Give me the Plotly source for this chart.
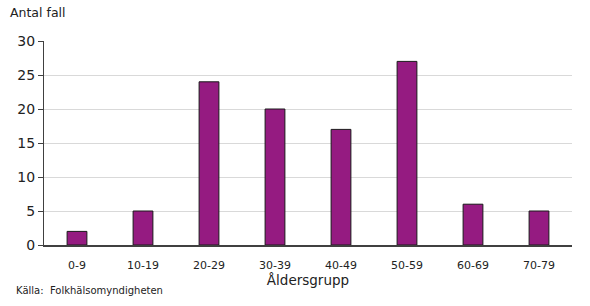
import plotly.graph_objects as go

categories = ["0-9", "10-19", "20-29", "30-39", "40-49", "50-59", "60-69", "70-79"]
values = [2, 5, 24, 20, 17, 27, 6, 5]
y_ticks = [0, 5, 10, 15, 20, 25, 30]

fig = go.Figure(go.Bar(
    x=categories, y=values,
    marker=dict(color="#951B81", line=dict(color="#1a1a1a", width=1)),
    width=0.3,
))

fig.update_layout(
    width=590, height=306,
    margin=dict(l=44, r=18, t=41, b=61),
    plot_bgcolor="white", paper_bgcolor="white",
    font=dict(family="DejaVu Sans", color="#222222"),
    showlegend=False,
    xaxis=dict(
        showline=True, linecolor="#404040", linewidth=1.5,
        ticks="", tickfont=dict(size=11), showgrid=False,
        ticklabelstandoff=9,
        title=dict(text="Åldersgrupp", font=dict(size=13.5), standoff=3),
    ),
    yaxis=dict(
        range=[0, 30], tickvals=y_ticks,
        showline=True, linecolor="#404040", linewidth=1,
        ticks="outside", ticklen=5, tickcolor="#404040",
        tickfont=dict(size=14), showgrid=True, gridcolor="#d9d9d9", gridwidth=1,
        zeroline=False,
    ),
    annotations=[
        dict(text="Antal fall", xref="paper", yref="paper", x=-0.068, y=1.0,
             xanchor="left", yanchor="bottom", yshift=19, showarrow=False,
             font=dict(size=12.5)),
        dict(text="Källa:  Folkhälsomyndigheten", xref="paper", yref="paper",
             x=-0.056, y=0, xanchor="left", yanchor="top", yshift=-38,
             showarrow=False, font=dict(size=10)),
    ],
)

fig.write_html("out.html")
